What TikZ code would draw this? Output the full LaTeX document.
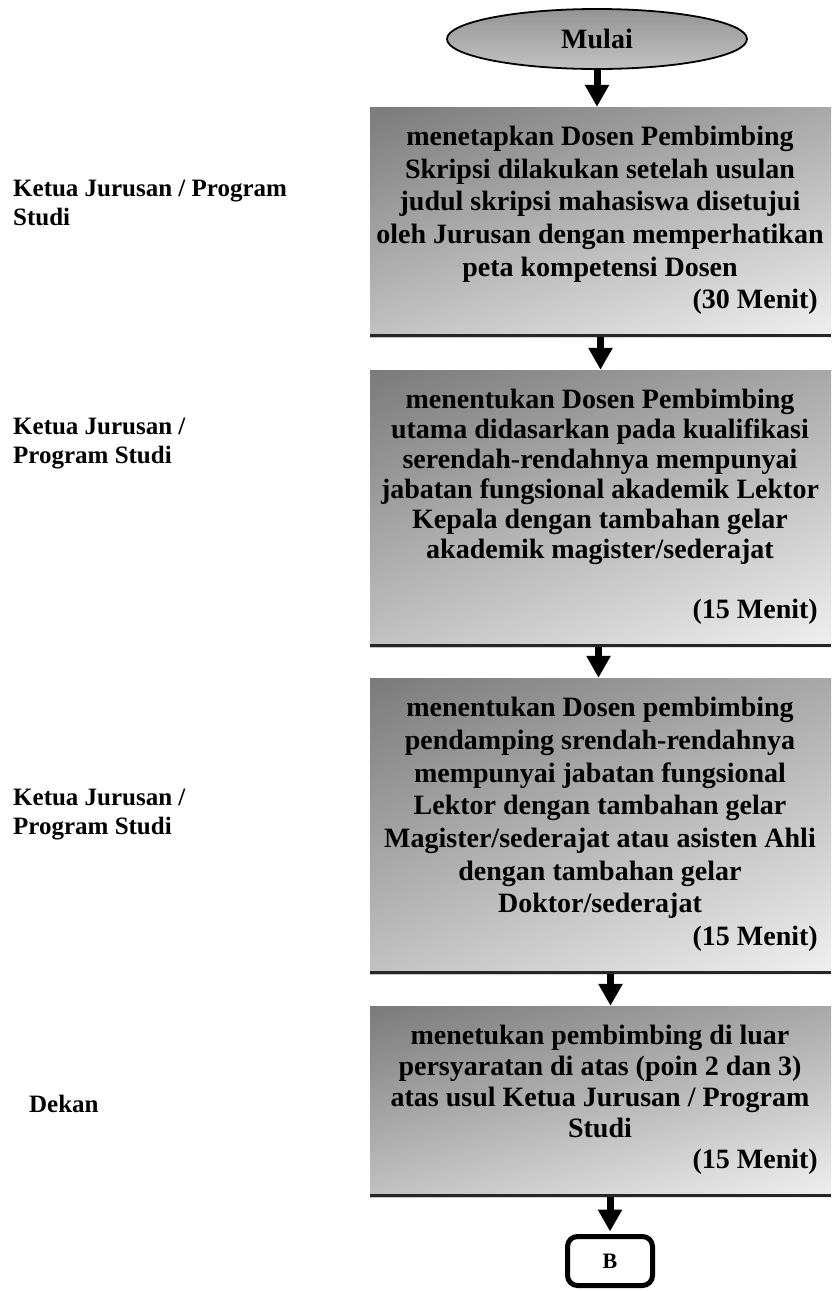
\documentclass[tikz,border=0pt]{standalone}
\usepackage{fontspec}
\setmainfont{Liberation Serif}
\usetikzlibrary{arrows.meta,shapes.geometric,shadings}
\begin{document}
\begin{tikzpicture}[x=1pt,y=-1pt,
  procbox/.style={rectangle, inner sep=0pt, minimum width=461pt, shade, shading=bilinear interpolation,
     upper left=black!52, upper right=black!34, lower left=black!24, lower right=black!6},
  boxtext/.style={inner sep=0pt, align=center, anchor=north, font=\bfseries\fontsize{28}{#1}\selectfont},
  menit/.style={inner sep=0pt, anchor=base east, font=\bfseries\fontsize{28}{33}\selectfont},
  lab/.style={inner sep=0pt, align=left, anchor=north west, font=\bfseries\fontsize{25}{29}\selectfont},
  edge/.style={line width=3pt, black!85},
  arr/.style={line width=7pt, -{Triangle[width=23pt,length=22pt]}},
  endbox/.style={draw, line width=5pt, rounded corners=10pt, fill=white, inner sep=0pt,
     minimum width=85pt, minimum height=49pt, font=\bfseries\fontsize{22}{26}\selectfont}
]
\useasboundingbox (0,0) rectangle (831,1291);

% start
\node[ellipse, draw, line width=1.8pt, shade, top color=black!42, bottom color=black!24,
      minimum width=300pt, minimum height=60pt, inner sep=0pt,
      font=\bfseries\fontsize{28}{33}\selectfont] (start) at (597,39) {Mulai};

% boxes
\node[procbox, minimum height=230pt] (b1) at (600.5,222) {};
\node[procbox, minimum height=277pt] (b2) at (600.5,508.5) {};
\node[procbox, minimum height=296pt] (b3) at (600.5,826) {};
\node[procbox, minimum height=191pt] (b4) at (600.5,1101.5) {};
\foreach \b in {b1,b2,b3,b4}{
  \draw[edge] ([yshift=1.5pt]\b.south west) -- ([yshift=1.5pt]\b.south east);
}

% box texts
\node[boxtext=32.6] (t1) at (600,126) {menetapkan Dosen Pembimbing\\Skripsi dilakukan setelah usulan\\judul skripsi mahasiswa disetujui\\oleh Jurusan dengan memperhatikan\\peta kompetensi Dosen};
\node[menit] (m1) at (818,308) {(30 Menit)};

\node[boxtext=30] (t2) at (600,389) {menentukan Dosen Pembimbing\\utama didasarkan pada kualifikasi\\serendah-rendahnya mempunyai\\jabatan fungsional akademik Lektor\\Kepala dengan tambahan gelar\\akademik magister/sederajat};
\node[menit] (m2) at (818,618) {(15 Menit)};

\node[boxtext=32.7] (t3) at (600,697) {menentukan Dosen pembimbing\\pendamping srendah-rendahnya\\mempunyai jabatan fungsional\\Lektor dengan tambahan gelar\\Magister/sederajat atau asisten Ahli\\dengan tambahan gelar\\Doktor/sederajat};
\node[menit] (m3) at (818,945) {(15 Menit)};

\node[boxtext=31] (t4) at (600,1025) {menetukan pembimbing di luar\\persyaratan di atas (poin 2 dan 3)\\atas usul Ketua Jurusan / Program\\Studi};
\node[menit] (m4) at (818,1168) {(15 Menit)};

% end
\node[endbox] (B) at (610,1261) {B};

% left labels
\node[lab] (l1) at (13,180) {Ketua Jurusan / Program\\Studi};
\node[lab] (l2) at (13,418) {Ketua Jurusan /\\Program Studi};
\node[lab] (l3) at (13,789) {Ketua Jurusan /\\Program Studi};
\node[lab] (l4) at (29,1095) {Dekan};

% arrows
\draw[arr] (start.south) -- (start.south |- b1.north);
\draw[arr] (b1.south) -- (b2.north);
\draw[arr] ([xshift=-2pt]b2.south) -- ([xshift=-2pt]b3.north);
\draw[arr] ([xshift=10pt]b3.south) -- ([xshift=10pt]b4.north);
\draw[arr] (b4.south -| B.north) -- ([yshift=2.5pt]B.north);
\end{tikzpicture}
\end{document}
